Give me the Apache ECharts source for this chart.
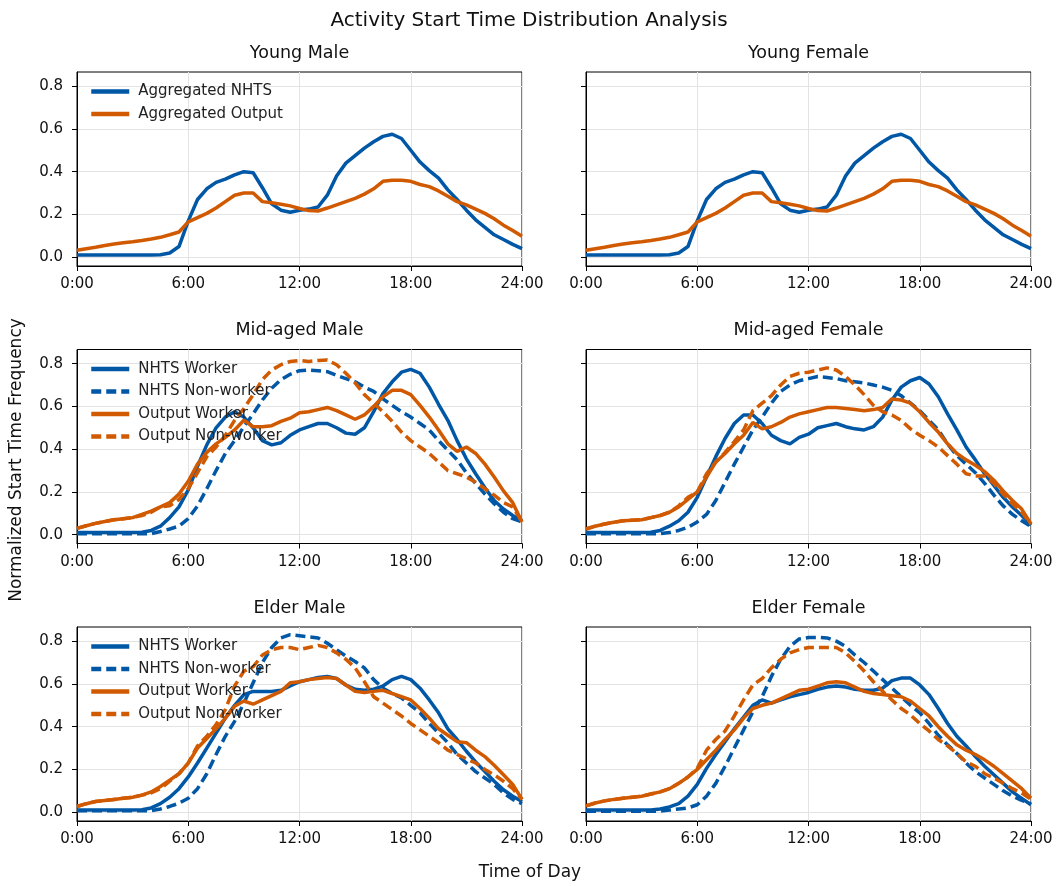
<!DOCTYPE html>
<html>
<head>
<meta charset="utf-8">
<script src="https://cdn.jsdelivr.net/npm/echarts@6/dist/echarts.min.js"></script>
<style>
html, body { margin: 0; padding: 0; background: #fff; }
#main { width: 1058px; height: 886px; }
</style>
</head>
<body>
<div id="main"></div>
<script>
// 横轴：一天中的小时（半小时一个点）
var hours = [0, 0.5, 1, 1.5, 2, 2.5, 3, 3.5, 4, 4.5, 5, 5.5, 6, 6.5, 7, 7.5, 8, 8.5, 9, 9.5, 10, 10.5, 11, 11.5,
    12, 12.5, 13, 13.5, 14, 14.5, 15, 15.5, 16, 16.5, 17, 17.5, 18, 18.5, 19, 19.5, 20, 20.5, 21, 21.5, 22, 22.5, 23, 23.5, 24];
var freqTicks = [0, 0.2, 0.4, 0.6, 0.8];

// Young (male / female look the same in the picture)
var youngNhts = [0.01, 0.01, 0.01, 0.01, 0.01, 0.01, 0.01, 0.01, 0.01, 0.012, 0.02, 0.05, 0.17, 0.27, 0.32, 0.35, 0.365, 0.385, 0.40, 0.395, 0.325, 0.25, 0.22, 0.21,
    0.22, 0.225, 0.235, 0.29, 0.38, 0.44, 0.475, 0.51, 0.54, 0.565, 0.575, 0.555, 0.50, 0.445, 0.405, 0.37, 0.315, 0.27, 0.22, 0.175, 0.14, 0.105, 0.083, 0.06, 0.04];
var youngOutput = [0.033, 0.04, 0.047, 0.055, 0.062, 0.068, 0.072, 0.078, 0.085, 0.093, 0.105, 0.118, 0.165, 0.185, 0.205, 0.23, 0.26, 0.29, 0.30, 0.30, 0.26, 0.255, 0.248, 0.24,
    0.228, 0.218, 0.216, 0.23, 0.245, 0.26, 0.275, 0.295, 0.32, 0.355, 0.36, 0.36, 0.355, 0.34, 0.33, 0.31, 0.285, 0.26, 0.245, 0.225, 0.205, 0.18, 0.15, 0.125, 0.098];

// Mid-aged Male
var midMaleNhtsW = [0.01, 0.01, 0.01, 0.01, 0.01, 0.01, 0.01, 0.012, 0.02, 0.04, 0.08, 0.13, 0.21, 0.32, 0.42, 0.50, 0.55, 0.575, 0.55, 0.50, 0.44, 0.42, 0.43, 0.465,
    0.49, 0.505, 0.52, 0.52, 0.50, 0.475, 0.47, 0.50, 0.575, 0.66, 0.715, 0.76, 0.773, 0.755, 0.69, 0.61, 0.535, 0.44, 0.355, 0.285, 0.22, 0.16, 0.12, 0.09, 0.065];
var midMaleNhtsN = [0.005, 0.005, 0.005, 0.005, 0.005, 0.005, 0.005, 0.005, 0.005, 0.015, 0.027, 0.04, 0.075, 0.135, 0.215, 0.30, 0.38, 0.44, 0.505, 0.565, 0.63, 0.685, 0.725, 0.75,
    0.767, 0.77, 0.767, 0.762, 0.745, 0.73, 0.715, 0.69, 0.67, 0.635, 0.605, 0.575, 0.55, 0.52, 0.49, 0.44, 0.395, 0.35, 0.29, 0.24, 0.19, 0.145, 0.105, 0.075, 0.06];
var midMaleOutW = [0.03, 0.042, 0.053, 0.062, 0.07, 0.075, 0.08, 0.095, 0.11, 0.13, 0.15, 0.19, 0.25, 0.33, 0.385, 0.425, 0.455, 0.49, 0.535, 0.505, 0.505, 0.51, 0.53, 0.545,
    0.57, 0.575, 0.585, 0.595, 0.58, 0.56, 0.54, 0.56, 0.60, 0.645, 0.675, 0.675, 0.655, 0.605, 0.55, 0.49, 0.425, 0.39, 0.41, 0.38, 0.33, 0.27, 0.205, 0.15, 0.06];
var midMaleOutN = [0.03, 0.042, 0.053, 0.062, 0.07, 0.075, 0.08, 0.09, 0.105, 0.13, 0.135, 0.165, 0.215, 0.29, 0.365, 0.41, 0.465, 0.535, 0.59, 0.655, 0.725, 0.77, 0.795, 0.81,
    0.815, 0.81, 0.815, 0.817, 0.795, 0.755, 0.71, 0.655, 0.615, 0.575, 0.53, 0.48, 0.44, 0.41, 0.38, 0.34, 0.30, 0.285, 0.27, 0.245, 0.215, 0.185, 0.15, 0.13, 0.06];

// Mid-aged Female
var midFemNhtsW = [0.01, 0.01, 0.01, 0.01, 0.01, 0.01, 0.01, 0.012, 0.02, 0.04, 0.065, 0.105, 0.175, 0.27, 0.365, 0.45, 0.52, 0.56, 0.56, 0.52, 0.465, 0.44, 0.425, 0.455,
    0.47, 0.50, 0.51, 0.52, 0.505, 0.495, 0.49, 0.505, 0.55, 0.63, 0.69, 0.72, 0.735, 0.705, 0.645, 0.565, 0.49, 0.41, 0.35, 0.285, 0.23, 0.175, 0.13, 0.09, 0.045];
var midFemNhtsN = [0.005, 0.005, 0.005, 0.005, 0.005, 0.005, 0.005, 0.005, 0.005, 0.01, 0.02, 0.035, 0.06, 0.095, 0.16, 0.245, 0.33, 0.41, 0.49, 0.55, 0.615, 0.67, 0.70, 0.72,
    0.73, 0.74, 0.735, 0.73, 0.72, 0.715, 0.71, 0.70, 0.69, 0.675, 0.65, 0.615, 0.58, 0.535, 0.49, 0.425, 0.37, 0.33, 0.29, 0.24, 0.185, 0.135, 0.095, 0.065, 0.038];
var midFemOutW = [0.027, 0.04, 0.05, 0.058, 0.065, 0.068, 0.07, 0.08, 0.09, 0.105, 0.13, 0.165, 0.2, 0.27, 0.34, 0.38, 0.425, 0.465, 0.525, 0.495, 0.505, 0.525, 0.55, 0.565,
    0.575, 0.585, 0.595, 0.595, 0.59, 0.585, 0.58, 0.585, 0.595, 0.635, 0.63, 0.615, 0.575, 0.525, 0.48, 0.425, 0.38, 0.35, 0.325, 0.295, 0.255, 0.205, 0.16, 0.12, 0.05];
var midFemOutN = [0.027, 0.04, 0.05, 0.058, 0.065, 0.068, 0.07, 0.08, 0.09, 0.105, 0.135, 0.175, 0.2, 0.285, 0.34, 0.385, 0.435, 0.49, 0.58, 0.615, 0.65, 0.70, 0.74, 0.755,
    0.76, 0.77, 0.78, 0.77, 0.74, 0.70, 0.655, 0.605, 0.575, 0.56, 0.535, 0.495, 0.465, 0.44, 0.41, 0.37, 0.33, 0.285, 0.275, 0.275, 0.24, 0.19, 0.145, 0.105, 0.05];

// Elder Male
var elderMaleNhtsW = [0.01, 0.01, 0.01, 0.01, 0.01, 0.01, 0.01, 0.012, 0.02, 0.04, 0.07, 0.11, 0.165, 0.23, 0.30, 0.37, 0.44, 0.50, 0.55, 0.565, 0.565, 0.565, 0.57, 0.59,
    0.61, 0.62, 0.63, 0.635, 0.625, 0.595, 0.575, 0.57, 0.575, 0.59, 0.62, 0.635, 0.62, 0.58, 0.525, 0.465, 0.39, 0.34, 0.285, 0.235, 0.19, 0.145, 0.105, 0.075, 0.05];
var elderMaleNhtsN = [0.007, 0.007, 0.007, 0.007, 0.007, 0.007, 0.007, 0.007, 0.007, 0.015, 0.027, 0.042, 0.065, 0.11, 0.18, 0.27, 0.355, 0.425, 0.51, 0.605, 0.70, 0.77, 0.815, 0.83,
    0.825, 0.82, 0.815, 0.79, 0.76, 0.73, 0.705, 0.675, 0.62, 0.58, 0.555, 0.535, 0.50, 0.465, 0.415, 0.37, 0.325, 0.27, 0.23, 0.19, 0.16, 0.13, 0.09, 0.06, 0.04];
var elderMaleOutW = [0.027, 0.04, 0.05, 0.055, 0.06, 0.065, 0.07, 0.08, 0.095, 0.12, 0.15, 0.18, 0.23, 0.30, 0.345, 0.39, 0.44, 0.495, 0.52, 0.505, 0.525, 0.545, 0.565, 0.605,
    0.61, 0.62, 0.625, 0.63, 0.625, 0.595, 0.565, 0.56, 0.565, 0.57, 0.555, 0.54, 0.525, 0.485, 0.44, 0.39, 0.36, 0.33, 0.325, 0.29, 0.26, 0.22, 0.175, 0.13, 0.06];
var elderMaleOutN = [0.027, 0.04, 0.05, 0.055, 0.06, 0.065, 0.07, 0.08, 0.09, 0.11, 0.145, 0.18, 0.23, 0.31, 0.355, 0.41, 0.48, 0.59, 0.66, 0.68, 0.735, 0.76, 0.77, 0.77,
    0.76, 0.77, 0.78, 0.77, 0.745, 0.715, 0.675, 0.61, 0.54, 0.51, 0.48, 0.45, 0.415, 0.385, 0.355, 0.325, 0.29, 0.27, 0.25, 0.23, 0.2, 0.175, 0.145, 0.11, 0.06];

// Elder Female
var elderFemNhtsW = [0.01, 0.01, 0.01, 0.01, 0.01, 0.01, 0.01, 0.01, 0.015, 0.025, 0.04, 0.075, 0.13, 0.205, 0.27, 0.33, 0.39, 0.445, 0.50, 0.525, 0.51, 0.525, 0.54, 0.55,
    0.56, 0.575, 0.585, 0.59, 0.585, 0.575, 0.57, 0.57, 0.58, 0.615, 0.627, 0.627, 0.595, 0.55, 0.485, 0.415, 0.355, 0.31, 0.26, 0.215, 0.175, 0.135, 0.095, 0.065, 0.035];
var elderFemNhtsN = [0.005, 0.005, 0.005, 0.005, 0.005, 0.005, 0.005, 0.005, 0.005, 0.01, 0.015, 0.02, 0.035, 0.075, 0.135, 0.215, 0.30, 0.385, 0.47, 0.54, 0.635, 0.715, 0.775, 0.81,
    0.817, 0.817, 0.815, 0.80, 0.775, 0.735, 0.70, 0.66, 0.62, 0.58, 0.54, 0.50, 0.465, 0.415, 0.36, 0.315, 0.275, 0.23, 0.19, 0.16, 0.13, 0.10, 0.075, 0.055, 0.04];
var elderFemOutW = [0.03, 0.043, 0.053, 0.06, 0.065, 0.07, 0.075, 0.085, 0.095, 0.11, 0.135, 0.165, 0.2, 0.245, 0.29, 0.34, 0.385, 0.44, 0.485, 0.50, 0.51, 0.53, 0.55, 0.57,
    0.575, 0.59, 0.605, 0.61, 0.605, 0.585, 0.565, 0.555, 0.55, 0.545, 0.54, 0.52, 0.485, 0.45, 0.40, 0.355, 0.315, 0.29, 0.27, 0.245, 0.215, 0.18, 0.145, 0.11, 0.065];
var elderFemOutN = [0.03, 0.043, 0.053, 0.06, 0.065, 0.07, 0.075, 0.085, 0.095, 0.11, 0.135, 0.165, 0.205, 0.29, 0.34, 0.38, 0.45, 0.525, 0.595, 0.625, 0.675, 0.715, 0.745, 0.76,
    0.77, 0.77, 0.77, 0.77, 0.745, 0.705, 0.66, 0.61, 0.565, 0.525, 0.485, 0.455, 0.415, 0.38, 0.34, 0.31, 0.275, 0.235, 0.215, 0.18, 0.16, 0.135, 0.11, 0.09, 0.06];

var blue = '#0057a6';
var orange = '#d15a00';
var font = 'DejaVu Sans';

// 子图位置
var gridLeft = [77, 586];
var gridTop = [72, 349.5, 627];
var gridW = 445, gridH = 194;

function groupLines(nw, nn, ow, on) {
    return [
        ['NHTS Worker', nw, blue, 'solid'],
        ['NHTS Non-worker', nn, blue, 'dashed'],
        ['Output Worker', ow, orange, 'solid'],
        ['Output Non-worker', on, orange, 'dashed']
    ];
}
var youngLines = [
    ['Aggregated NHTS', youngNhts, blue, 'solid'],
    ['Aggregated Output', youngOutput, orange, 'solid']
];
var panels = [
    { title: 'Young Male', col: 0, row: 0, legend: true, lines: youngLines },
    { title: 'Young Female', col: 1, row: 0, legend: false, lines: youngLines },
    { title: 'Mid-aged Male', col: 0, row: 1, legend: true, lines: groupLines(midMaleNhtsW, midMaleNhtsN, midMaleOutW, midMaleOutN) },
    { title: 'Mid-aged Female', col: 1, row: 1, legend: false, lines: groupLines(midFemNhtsW, midFemNhtsN, midFemOutW, midFemOutN) },
    { title: 'Elder Male', col: 0, row: 2, legend: true, lines: groupLines(elderMaleNhtsW, elderMaleNhtsN, elderMaleOutW, elderMaleOutN) },
    { title: 'Elder Female', col: 1, row: 2, legend: false, lines: groupLines(elderFemNhtsW, elderFemNhtsN, elderFemOutW, elderFemOutN) }
];

function pairs(vals) {
    return hours.map(function (h, i) { return [h, vals[i]]; });
}

function label(x, y, text, size, rot) {
    return {
        type: 'text', x: x, y: y, rotation: rot || 0,
        style: { text: text, font: size + 'px "DejaVu Sans"', fill: '#111', align: 'center', verticalAlign: 'middle', textAlign: 'center', textVerticalAlign: 'middle' }
    };
}

var grid = [], xAxis = [], yAxis = [], series = [], legend = [], graphic = [];

graphic.push(label(529, 21, 'Activity Start Time Distribution Analysis', 20));
graphic.push(label(530, 873, 'Time of Day', 17));
graphic.push(label(17, 460, 'Normalized Start Time Frequency', 17, Math.PI / 2));

panels.forEach(function (p, i) {
    var left = gridLeft[p.col], top = gridTop[p.row];
    grid.push({ left: left, top: top, width: gridW, height: gridH, show: true, borderColor: '#000', borderWidth: 1 });
    graphic.push(label(left + gridW / 2, top - 19, p.title, 17.5));

    xAxis.push({
        type: 'value', gridIndex: i, min: 0, max: 24, interval: 6,
        axisLine: { show: true, onZero: false, lineStyle: { color: '#000', width: 1 } },
        axisTick: { show: true, length: 5, lineStyle: { color: '#000' } },
        axisLabel: { margin: 11, fontFamily: font, fontSize: 15, color: '#111', formatter: function (v) { return v + ':00'; } },
        splitLine: { show: true, lineStyle: { color: '#e3e3e3', width: 1 } }
    });
    yAxis.push({
        type: 'value', gridIndex: i, min: -0.041, max: 0.866,
        axisLine: { show: true, lineStyle: { color: '#000', width: 1 } },
        axisTick: { show: true, length: 5, lineStyle: { color: '#000' }, customValues: freqTicks },
        axisLabel: { show: p.col === 0, margin: 14, fontFamily: font, fontSize: 15, color: '#111', customValues: freqTicks,
            formatter: function (v) { return v.toFixed(1); } },
        splitLine: { show: true, lineStyle: { color: '#e3e3e3', width: 1 } }
    });

    p.lines.forEach(function (ln) {
        series.push({
            name: ln[0], type: 'line', xAxisIndex: i, yAxisIndex: i,
            data: pairs(ln[1]), symbol: 'none', showSymbol: false,
            lineStyle: { color: ln[2], width: 3.5, type: ln[3] === 'dashed' ? [10, 5] : 'solid' },
            itemStyle: { color: ln[2] },
            emphasis: { disabled: true }
        });
    });

    if (p.legend) {
        legend.push({
            data: p.lines.map(function (ln) { return ln[0]; }),
            orient: 'vertical', left: 89, top: top + 12, padding: 0,
            itemWidth: 38, itemHeight: 14, itemGap: 7.5,
            selectedMode: false,
            itemStyle: { opacity: 0 },
            lineStyle: { width: 4.5 },
            textStyle: { fontFamily: font, fontSize: 15, color: '#222', padding: [0, 0, 0, 4] }
        });
    }
});

var myChart = echarts.init(document.getElementById('main'));
myChart.setOption({
    animation: false,
    backgroundColor: '#fff',
    grid: grid,
    xAxis: xAxis,
    yAxis: yAxis,
    legend: legend,
    graphic: graphic,
    series: series
});
</script>
</body>
</html>
